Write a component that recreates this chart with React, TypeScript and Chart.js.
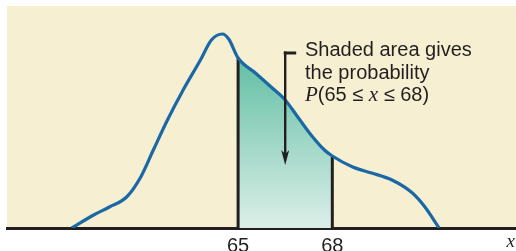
import { useEffect, useRef } from "react";
import { Chart, registerables } from "chart.js";

Chart.register(...registerables);

// Curve (x value, height of density curve)
const xValues = [59.7, 60.4, 60.9, 61.45, 61.9, 62.3, 62.75, 63.25, 63.8, 64.15, 64.5, 64.7, 65, 65.55, 66.05, 66.5, 66.9, 67.35, 67.75, 68, 68.65, 69.25, 69.9, 70.55, 70.95, 71.4];
const densityValues = [0, 13, 21, 31, 51, 78, 108, 138, 168, 188, 194, 189, 170, 155, 141, 128, 111, 92, 78, 72, 61, 55, 48, 35, 21, 0];
const tickValues = [65, 68];
const shadeFrom = 65;
const shadeTo = 68;
const annotationLines = ["Shaded area gives", "the probability"];
const axisLabel = "x";

const SANS = '"Liberation Sans", Arial, Helvetica, sans-serif';
const SERIF = '"Liberation Serif", "Times New Roman", serif';
const INK = "#231f20";

export default function App() {
  const ref = useRef<HTMLCanvasElement>(null);

  useEffect(() => {
    const canvas = ref.current!;
    const curve = xValues.map((x, i) => ({ x, y: densityValues[i] }));
    const shaded = curve.filter((p) => p.x >= shadeFrom && p.x <= shadeTo);
    const yAt = (x: number) => densityValues[xValues.indexOf(x)];

    const bgPlugin = {
      id: "bg",
      beforeDraw(chart: any) {
        const { ctx, chartArea: a } = chart;
        ctx.save();
        ctx.fillStyle = "#f6efd1";
        ctx.fillRect(a.left, a.top, a.right - a.left, a.bottom - a.top);
        ctx.restore();
      },
    };

    const annotPlugin = {
      id: "annot",
      afterDraw(chart: any) {
        const { ctx, chartArea: a } = chart;
        const xs = chart.scales.x;
        const ys = chart.scales.y;
        ctx.save();
        // arrow
        const ax = xs.getPixelForValue(66.5);
        const hookEnd = xs.getPixelForValue(66.85);
        const top = ys.getPixelForValue(175);
        const tip = ys.getPixelForValue(63);
        ctx.strokeStyle = INK;
        ctx.fillStyle = INK;
        ctx.lineWidth = 3;
        ctx.beginPath();
        ctx.moveTo(hookEnd, top);
        ctx.lineTo(ax - 1.5, top);
        ctx.stroke();
        ctx.lineWidth = 2.4;
        ctx.beginPath();
        ctx.moveTo(ax, top - 1.5);
        ctx.lineTo(ax, tip - 8);
        ctx.stroke();
        ctx.beginPath();
        ctx.moveTo(ax, tip);
        ctx.lineTo(ax - 4, tip - 15);
        ctx.lineTo(ax, tip - 11);
        ctx.lineTo(ax + 4, tip - 15);
        ctx.closePath();
        ctx.fill();

        // text
        const tx = xs.getPixelForValue(67.13);
        ctx.textAlign = "left";
        ctx.textBaseline = "alphabetic";
        ctx.font = `20px ${SANS}`;
        ctx.fillText(annotationLines[0], tx, ys.getPixelForValue(172));
        ctx.fillText(annotationLines[1], tx, ys.getPixelForValue(149));
        const by = ys.getPixelForValue(127);
        let cx = tx;
        const parts: [string, string][] = [
          ["P", `italic 21px ${SERIF}`],
          ["(65 \u2264 ", `20px ${SANS}`],
          ["x", `italic 21px ${SERIF}`],
          [" \u2264 68)", `20px ${SANS}`],
        ];
        for (const [t, f] of parts) {
          ctx.font = f;
          ctx.fillText(t, cx, by);
          cx += ctx.measureText(t).width;
        }

        // axis label
        ctx.font = `italic 19px ${SERIF}`;
        ctx.textAlign = "right";
        ctx.fillText(axisLabel, a.right - 1, a.bottom + 19);
        ctx.restore();
      },
    };

    const chart = new Chart(canvas, {
      type: "scatter",
      data: {
        datasets: [
          {
            data: curve,
            showLine: true,
            borderColor: "#1b68a6",
            borderWidth: 3.2,
            pointRadius: 0,
            cubicInterpolationMode: "monotone",
            fill: false,
            order: 0,
          },
          {
            data: [{ x: shadeFrom, y: 0 }, { x: shadeFrom, y: yAt(shadeFrom) }],
            showLine: true,
            borderColor: INK,
            borderWidth: 3,
            pointRadius: 0,
            order: 1,
          },
          {
            data: [{ x: shadeTo, y: 0 }, { x: shadeTo, y: yAt(shadeTo) }],
            showLine: true,
            borderColor: INK,
            borderWidth: 3,
            pointRadius: 0,
            order: 1,
          },
          {
            data: shaded,
            showLine: true,
            borderWidth: 0,
            borderColor: "rgba(0,0,0,0)",
            pointRadius: 0,
            cubicInterpolationMode: "monotone",
            fill: "origin",
            order: 3,
            backgroundColor: (c: any) => {
              const ch = c.chart;
              const a = ch.chartArea;
              if (!a) return "rgba(0,0,0,0)";
              const g = ch.ctx.createLinearGradient(0, ch.scales.y.getPixelForValue(yAt(shadeFrom)), 0, a.bottom);
              g.addColorStop(0, "#62bfa4");
              g.addColorStop(0.5, "#a0d7c6");
              g.addColorStop(1, "#dbefe8");
              return g;
            },
          },
        ],
      },
      options: {
        animation: false,
        responsive: false,
        maintainAspectRatio: false,
        events: [],
        layout: { padding: { left: 7, top: 6, right: 0, bottom: 0 } },
        plugins: { legend: { display: false }, tooltip: { enabled: false } },
        scales: {
          x: {
            type: "linear",
            min: 57.64,
            max: 73.85,
            grid: { display: false, drawTicks: false },
            border: { display: true, color: INK, width: 3 },
            afterBuildTicks: (s: any) => {
              s.ticks = tickValues.map((v) => ({ value: v }));
            },
            afterFit: (s: any) => {
              s.height = 23;
            },
            ticks: {
              font: { family: SANS, size: 20 },
              color: INK,
              padding: 6,
              autoSkip: false,
              maxRotation: 0,
              callback: (v: any) => String(v),
            },
          },
          y: { display: false, min: 0, max: 222 },
        },
      },
      plugins: [bgPlugin, annotPlugin],
    } as any);
    return () => chart.destroy();
  }, []);

  return (
    <div style={{ position: "fixed", left: 0, top: 0, width: 516, height: 251, background: "#fff" }}>
      <canvas ref={ref} width={516} height={251} style={{ display: "block" }} />
    </div>
  );
}
